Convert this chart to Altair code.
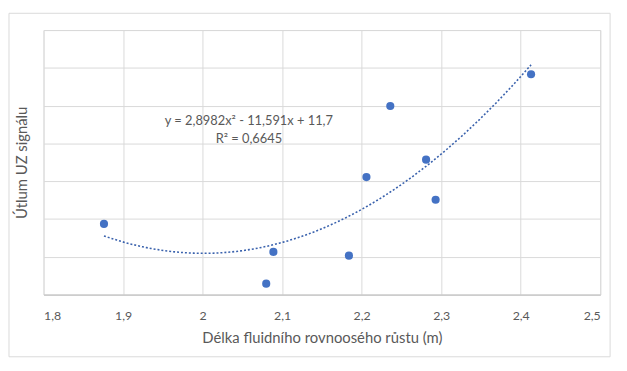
import altair as alt
import pandas as pd

# data
delka = [1.876, 2.080, 2.089, 2.184, 2.206, 2.236, 2.281, 2.293, 2.413]
utlum = [0.187, 0.029, 0.113, 0.103, 0.311, 0.499, 0.357, 0.251, 0.583]
x_ticks = [1.8, 1.9, 2.0, 2.1, 2.2, 2.3, 2.4, 2.5]
y_ticks = [0.0, 0.1, 0.2, 0.3, 0.4, 0.5, 0.6, 0.7]
eq_lines = ["y = 2,8982x² - 11,591x + 11,7", "R² = 0,6645"]

df = pd.DataFrame({"x": delka, "y": utlum})

FONT = "Lato"
BLUE = "#4472C4"
W, H = 564, 268

xscale = alt.Scale(domain=[1.8, 2.5], nice=False, zero=False)
yscale = alt.Scale(domain=[0, 0.7], nice=False)

xaxis = alt.Axis(
    values=x_ticks, format=".1~f", labelExpr="replace(datum.label, '.', ',')",
    title="Délka fluidního rovnoosého růstu (m)", ticks=False, domain=True,
    domainColor="#bfbfbf", gridColor="#d9d9d9", labelColor="#595959",
    labelFont=FONT, labelFontSize=12.5, labelPadding=15,
    titleFont=FONT, titleFontSize=15, titleFontWeight="normal",
    titleColor="#595959", titlePadding=9,
)
yaxis = alt.Axis(
    values=y_ticks, labels=False, ticks=False, domain=False,
    gridColor="#d9d9d9", title="Útlum UZ signálu",
    titleFont=FONT, titleFontSize=15, titleFontWeight="normal",
    titleColor="#595959", titlePadding=14,
)

base = alt.Chart(df)

points = base.mark_circle(size=68, color=BLUE, opacity=1).encode(
    x=alt.X("x:Q", scale=xscale, axis=xaxis),
    y=alt.Y("y:Q", scale=yscale, axis=yaxis),
)

trend = base.transform_regression(
    "x", "y", method="poly", order=2
).mark_line(color="#3a62ad", strokeDash=[2, 2], strokeWidth=1.6).encode(
    x=alt.X("x:Q", scale=xscale, axis=xaxis),
    y=alt.Y("y:Q", scale=yscale, axis=yaxis),
)

eq_df = pd.DataFrame({"t": eq_lines, "i": [0, 1]})


def eq_text(i, ypix):
    return alt.Chart(eq_df).transform_filter(
        alt.datum.i == i
    ).mark_text(
        font=FONT, fontSize=13, color="#595959", align="center", baseline="middle"
    ).encode(text="t:N", x=alt.value(208), y=alt.value(ypix))


border = alt.Chart(pd.DataFrame({"a": [0]})).mark_rect(
    fill=None, stroke="#d9d9d9", strokeWidth=1
).encode(
    x=alt.value(-35), x2=alt.value(W + 10),
    y=alt.value(-17), y2=alt.value(H + 63),
)

chart = alt.layer(border, trend, points, eq_text(0, 92), eq_text(1, 110)).properties(
    width=W, height=H,
    autosize=alt.AutoSizeParams(type="none"),
    padding={"left": 36, "top": 20, "right": 19, "bottom": 70},
).configure_view(stroke="#d9d9d9").configure(background="white")

chart.save("out.html", embed_options={"renderer": "svg", "actions": False})
